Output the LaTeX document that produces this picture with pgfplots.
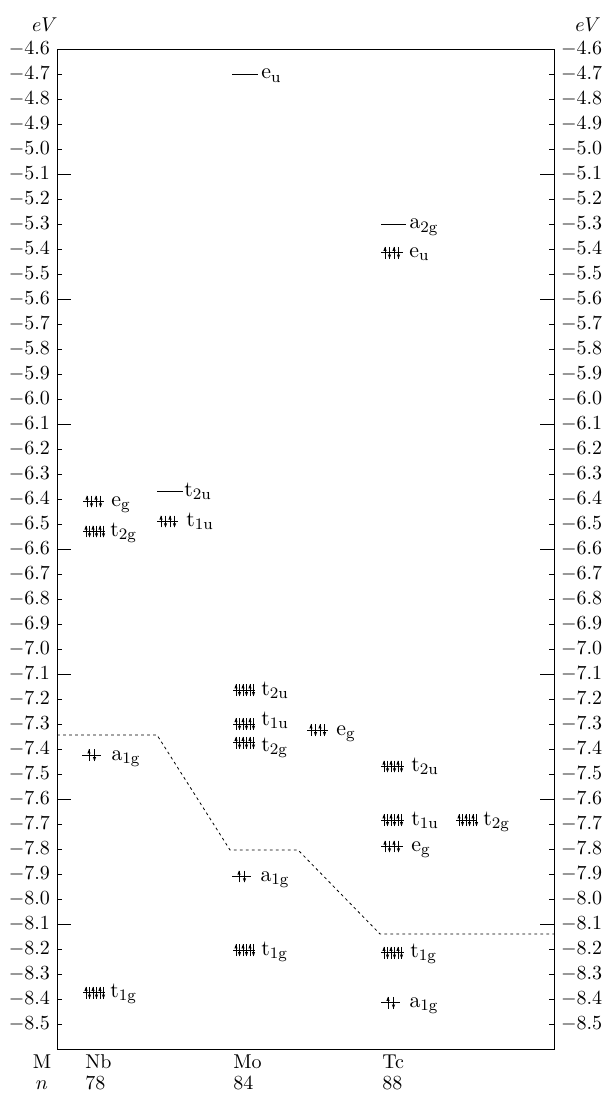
\documentclass[border=0pt]{standalone}
\usepackage{pgfplots}
\pgfplotsset{compat=1.18}
\pgfdeclareplotmark{eup}{%
  \pgfpathmoveto{\pgfqpoint{0pt}{-2.9pt}}\pgfpathlineto{\pgfqpoint{0pt}{2.9pt}}\pgfusepathqstroke
  \pgfpathmoveto{\pgfqpoint{0pt}{3.0pt}}\pgfpathlineto{\pgfqpoint{-0.8pt}{0.9pt}}\pgfpathlineto{\pgfqpoint{0.8pt}{0.9pt}}\pgfpathclose\pgfusepathqfill}
\pgfdeclareplotmark{edown}{%
  \pgfpathmoveto{\pgfqpoint{0pt}{2.9pt}}\pgfpathlineto{\pgfqpoint{0pt}{-2.9pt}}\pgfusepathqstroke
  \pgfpathmoveto{\pgfqpoint{0pt}{-3.0pt}}\pgfpathlineto{\pgfqpoint{-0.8pt}{-0.9pt}}\pgfpathlineto{\pgfqpoint{0.8pt}{-0.9pt}}\pgfpathclose\pgfusepathqfill}
\pgfplotsset{common/.style={
  scale only axis, width=248.5pt, height=500pt,
  xmin=57, xmax=554, ymin=-8.6, ymax=-4.6,
  xtick=\empty,
  ytick={-4.6,-4.7,-4.8,-4.9,-5.0,-5.1,-5.2,-5.3,-5.4,-5.5,-5.6,-5.7,-5.8,-5.9,-6.0,-6.1,-6.2,-6.3,-6.4,-6.5,-6.6,-6.7,-6.8,-6.9,-7.0,-7.1,-7.2,-7.3,-7.4,-7.5,-7.6,-7.7,-7.8,-7.9,-8.0,-8.1,-8.2,-8.3,-8.4,-8.5},
  major tick length=2.5pt,
  tick style={black, line width=0.4pt},
  extra y ticks={-4.6,-5.1,-5.6,-6.1,-6.6,-7.1,-7.6,-8.1},
  extra y tick labels={},
  extra y tick style={major tick length=7pt},
  yticklabel style={/pgf/number format/.cd, fixed, fixed zerofill, precision=1},
  axis line style={line width=0.45pt},
  clip=false}}
\newcommand{\lev}[3]{\addplot[black, line width=0.45pt, forget plot] coordinates {(#1,#3) (#2,#3)};}
\newcommand{\lab}[3]{\node[anchor=base west, inner sep=0pt, yshift=-2.4pt, font=\fontsize{11}{13}\selectfont] at (axis cs:#1,#2) {$#3$};}
\begin{document}
\begin{tikzpicture}
\begin{axis}[common, name=ax]
% dashed boundary
\addplot[black, line width=0.4pt, dash pattern=on 1.4pt off 1.6pt] coordinates {(57,-7.344) (157,-7.344) (230,-7.804) (298,-7.804) (380,-8.14) (554,-8.14)};
% levels
\lev{83}{104}{-6.41}
\lev{83}{105}{-6.53}
\lev{82}{101}{-7.425}
\lev{83}{105}{-8.375}
\lev{157}{183}{-6.37}
\lev{157}{178}{-6.49}
\lev{232}{258}{-4.70}
\lev{233}{255}{-7.165}
\lev{233}{255}{-7.30}
\lev{233}{255}{-7.375}
\lev{232}{251}{-7.91}
\lev{233}{255}{-8.205}
\lev{307}{328}{-7.325}
\lev{381}{406}{-5.30}
\lev{381}{403}{-5.415}
\lev{381}{404}{-7.47}
\lev{381}{404}{-7.685}
\lev{381}{403}{-7.79}
\lev{381}{404}{-8.215}
\lev{381}{400}{-8.415}
\lev{456}{477}{-7.685}
% electrons up
\addplot[only marks, mark=eup, black, mark options={line width=0.35pt}] coordinates {
(87,-6.41) (96,-6.41)
(86,-6.53) (93,-6.53) (100,-6.53)
(89,-7.425)
(86,-8.375) (93,-8.375) (100,-8.375)
(161,-6.49) (170,-6.49)
(236,-7.165) (243,-7.165) (250,-7.165)
(236,-7.30) (243,-7.30) (250,-7.30)
(236,-7.375) (243,-7.375) (250,-7.375)
(239,-7.91)
(236,-8.205) (243,-8.205) (250,-8.205)
(311,-7.325) (320,-7.325)
(385,-5.415) (394,-5.415)
(384,-7.47) (391,-7.47) (398,-7.47)
(384,-7.685) (391,-7.685) (398,-7.685)
(385,-7.79) (394,-7.79)
(384,-8.215) (391,-8.215) (398,-8.215)
(388,-8.415)
(459,-7.685) (466,-7.685) (473,-7.685)
};
% electrons down
\addplot[only marks, mark=edown, black, mark options={line width=0.35pt}] coordinates {
(91.5,-6.41) (100.5,-6.41)
(89.5,-6.53) (96.5,-6.53) (103.5,-6.53)
(94.5,-7.425)
(89.5,-8.375) (96.5,-8.375) (103.5,-8.375)
(165.5,-6.49) (174.5,-6.49)
(239.5,-7.165) (246.5,-7.165) (253.5,-7.165)
(239.5,-7.30) (246.5,-7.30) (253.5,-7.30)
(239.5,-7.375) (246.5,-7.375) (253.5,-7.375)
(244.5,-7.91)
(239.5,-8.205) (246.5,-8.205) (253.5,-8.205)
(315.5,-7.325) (324.5,-7.325)
(389.5,-5.415) (398.5,-5.415)
(387.5,-7.47) (394.5,-7.47) (401.5,-7.47)
(387.5,-7.685) (394.5,-7.685) (401.5,-7.685)
(389.5,-7.79) (398.5,-7.79)
(387.5,-8.215) (394.5,-8.215) (401.5,-8.215)
(393.5,-8.415)
(462.5,-7.685) (469.5,-7.685) (476.5,-7.685)
};
% labels
\lab{111}{-6.41}{\mathrm{e}_\mathrm{g}}
\lab{110}{-6.53}{\mathrm{t}_\mathrm{2g}}
\lab{111}{-7.425}{\mathrm{a}_\mathrm{1g}}
\lab{110}{-8.375}{\mathrm{t}_\mathrm{1g}}
\lab{184}{-6.37}{\mathrm{t}_\mathrm{2u}}
\lab{186}{-6.49}{\mathrm{t}_\mathrm{1u}}
\lab{261}{-4.70}{\mathrm{e}_\mathrm{u}}
\lab{261}{-7.165}{\mathrm{t}_\mathrm{2u}}
\lab{261}{-7.285}{\mathrm{t}_\mathrm{1u}}
\lab{261}{-7.39}{\mathrm{t}_\mathrm{2g}}
\lab{260}{-7.91}{\mathrm{a}_\mathrm{1g}}
\lab{261}{-8.205}{\mathrm{t}_\mathrm{1g}}
\lab{336}{-7.325}{\mathrm{e}_\mathrm{g}}
\lab{409}{-5.30}{\mathrm{a}_\mathrm{2g}}
\lab{409}{-5.415}{\mathrm{e}_\mathrm{u}}
\lab{411}{-7.47}{\mathrm{t}_\mathrm{2u}}
\lab{411}{-7.685}{\mathrm{t}_\mathrm{1u}}
\lab{411}{-7.79}{\mathrm{e}_\mathrm{g}}
\lab{410}{-8.215}{\mathrm{t}_\mathrm{1g}}
\lab{409}{-8.415}{\mathrm{a}_\mathrm{1g}}
\lab{483}{-7.685}{\mathrm{t}_\mathrm{2g}}
% bottom rows
\node[anchor=base, yshift=-9.5pt] at (axis cs:42,-8.6) {M};
\node[anchor=base west, inner sep=0pt, yshift=-9.5pt] at (axis cs:85,-8.6) {Nb};
\node[anchor=base west, inner sep=0pt, yshift=-9.5pt] at (axis cs:233,-8.6) {Mo};
\node[anchor=base west, inner sep=0pt, yshift=-9.5pt] at (axis cs:382,-8.6) {Tc};
\node[anchor=base, yshift=-20pt] at (axis cs:42,-8.6) {$n$};
\node[anchor=base west, inner sep=0pt, yshift=-20pt] at (axis cs:85,-8.6) {78};
\node[anchor=base west, inner sep=0pt, yshift=-20pt] at (axis cs:233,-8.6) {84};
\node[anchor=base west, inner sep=0pt, yshift=-20pt] at (axis cs:382,-8.6) {88};
% eV
\node[anchor=base east, inner sep=0pt, yshift=8.5pt, xshift=0.5pt] at (rel axis cs:0,1) {$eV$};
\node[anchor=base west, inner sep=0pt, yshift=8.5pt, xshift=10.5pt] at (rel axis cs:1,1) {$eV$};
\end{axis}
\begin{axis}[common, yticklabel pos=right]
\end{axis}
\pgfresetboundingbox
\path ([shift={(-28.5pt,-23pt)}]ax.south west) rectangle ([shift={(25.5pt,24.5pt)}]ax.north east);
\end{tikzpicture}
\end{document}
